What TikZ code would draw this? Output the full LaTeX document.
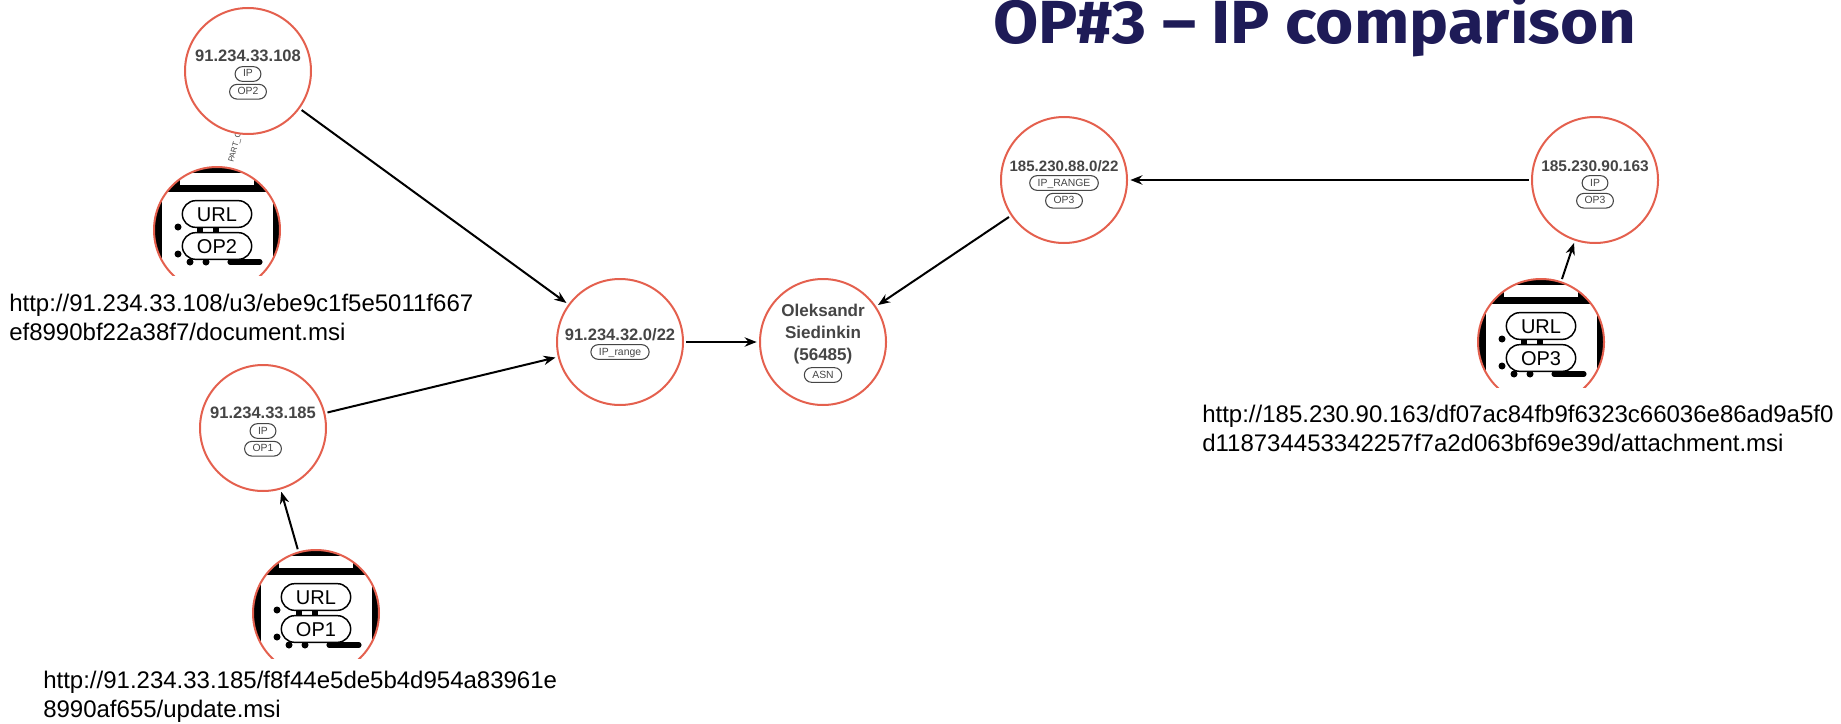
\documentclass[tikz,border=0pt]{standalone}
\usepackage{fontspec}
\setmainfont{Liberation Sans}
\newfontfamily\titlefont{Fira Sans}
\usepackage{xcolor}
\usepackage{graphicx}
\usetikzlibrary{positioning,arrows.meta}
\definecolor{ringred}{HTML}{E4604E}
\definecolor{labelgrey}{HTML}{454545}
\definecolor{titleblue}{HTML}{1E1B57}
\tikzset{
  ipcircle/.style={circle,draw=ringred,line width=1.5pt,minimum size=94.5pt,inner sep=0pt,outer sep=2.5pt},
  iplabel/.style={text=labelgrey,font=\fontsize{#1}{15.5}\selectfont\bfseries,align=center,inner sep=0pt},
  iplabel/.default=12.4,
  tagpill/.style={draw=labelgrey,line width=.8pt,rounded corners=5.5pt,text=labelgrey,font=\fontsize{7.8}{9}\selectfont,
    minimum height=11pt,inner xsep=6pt,inner ysep=0pt,text height=6pt,text depth=1.5pt},
  urlpill/.style={draw=black,line width=1.1pt,fill=white,rounded corners=10pt,font=\fontsize{15}{18}\selectfont,
    minimum width=52pt,minimum height=20pt,inner sep=0pt,text height=11pt,text depth=.5pt},
  urltext/.style={anchor=west,align=left,inner sep=0pt,font=\fontsize{18}{21.8}\selectfont},
}
\newcommand{\urlicon}[4]{%
\begin{scope}[shift={(#2,#3)}]
\begin{scope}
\clip (-70,-70) rectangle (70,45);
\begin{scope}
\clip (0,0) circle (63);
\fill[black] (-70,-70) rectangle (70,70);
\fill[white] (-55,-38) rectangle (56,70);
\fill[white] (-37,-57) rectangle (37,-45);
\fill[black] (-20,-4) rectangle (2,4);
\fill[white] (-14,-2) rectangle (-4,2);
\fill[black] (-39,-3) circle (3.5);
\fill[black] (-39,24) circle (3.5);
\fill[black] (-27,32) circle (3.5);
\fill[black] (-11,32) circle (3.5);
\draw[line width=3.8pt,line cap=round] (13,32) -- (43,32);
\end{scope}
\node (#1) [ipcircle] at (0,0) {};
\end{scope}
\node (#1a) [urlpill] at (0,-16) {URL};
\node (#1b) [urlpill] at (0,16) {#4};
\end{scope}}

\begin{document}
\begin{tikzpicture}[x=.75pt,y=-.75pt,>={Stealth[length=9pt,width=7pt]},node distance=1.5pt]
\useasboundingbox (0,0) rectangle (1841,724);
\node (title) [text=titleblue,anchor=base,inner sep=0pt] at (1315,44) {\resizebox{482pt}{37pt}{\titlefont\bfseries OP\#3 – IP comparison}};
% left part
\node (partof) [rotate=75,text=labelgrey,font=\fontsize{6}{7}\selectfont,inner sep=0pt] at (236,145) {PART\_OF};
\node (ip108) [ipcircle,fill=white] at (248,71) {};
\node (ip108t) [iplabel] at (248,56) {91.234.33.108};
\node (ip108a) [tagpill] at (248,74) {IP};
\node (ip108b) [tagpill,below=of ip108a] {OP2};
\node (ip185) [ipcircle] at (263,428) {};
\node (ip185t) [iplabel] at (263,413) {91.234.33.185};
\node (ip185a) [tagpill] at (263,431) {IP};
\node (ip185b) [tagpill,below=of ip185a] {OP1};
\node (range1) [ipcircle] at (620,342) {};
\node (range1t) [iplabel] at (620,335) {91.234.32.0/22};
\node (range1a) [tagpill] at (620,352) {IP\_range};
\node (asn) [ipcircle] at (823,342) {};
\node (asnt) [iplabel,font=\fontsize{12.8}{16.2}\selectfont\bfseries] at (823,334) {Oleksandr\\Siedinkin\\(56485)};
\node (asna) [tagpill] at (823,375) {ASN};
\urlicon{url2}{217}{230}{OP2}
\urlicon{url1}{316}{613}{OP1}
% right part
\node (range3) [ipcircle] at (1064,180) {};
\node (range3t) [iplabel=11.3] at (1064,166) {185.230.88.0/22};
\node (range3a) [tagpill] at (1064,183) {IP\_RANGE};
\node (range3b) [tagpill,below=of range3a] {OP3};
\node (ip163) [ipcircle] at (1595,180) {};
\node (ip163t) [iplabel=11.6] at (1595,166) {185.230.90.163};
\node (ip163a) [tagpill] at (1595,183) {IP};
\node (ip163b) [tagpill,below=of ip163a] {OP3};
\urlicon{url3}{1541}{342}{OP3}
\node (text2) [urltext] at (9,317) {http://91.234.33.108/u3/ebe9c1f5e5011f667\\ef8990bf22a38f7/document.msi};
\node (text1) [urltext] at (43,697) {http://91.234.33.185/f8f44e5de5b4d954a83961e\\8990af655/update.msi};
\node (text3) [urltext] at (1202,428) {http://185.230.90.163/df07ac84fb9f6323c66036e86ad9a5f0\\d118734453342257f7a2d063bf69e39d/attachment.msi};
\draw[->,line width=1.5pt] (ip108) -- (range1);
\draw[->,line width=1.5pt] (ip185) -- (range1);
\draw[->,line width=1.5pt] (range1) -- (asn);
\draw[->,line width=1.5pt] (range3) -- (asn);
\draw[->,line width=1.5pt] (ip163) -- (range3);
\draw[->,line width=1.5pt] (url1) -- (ip185);
\draw[->,line width=1.5pt] (url3) -- (ip163);
\end{tikzpicture}
\end{document}
